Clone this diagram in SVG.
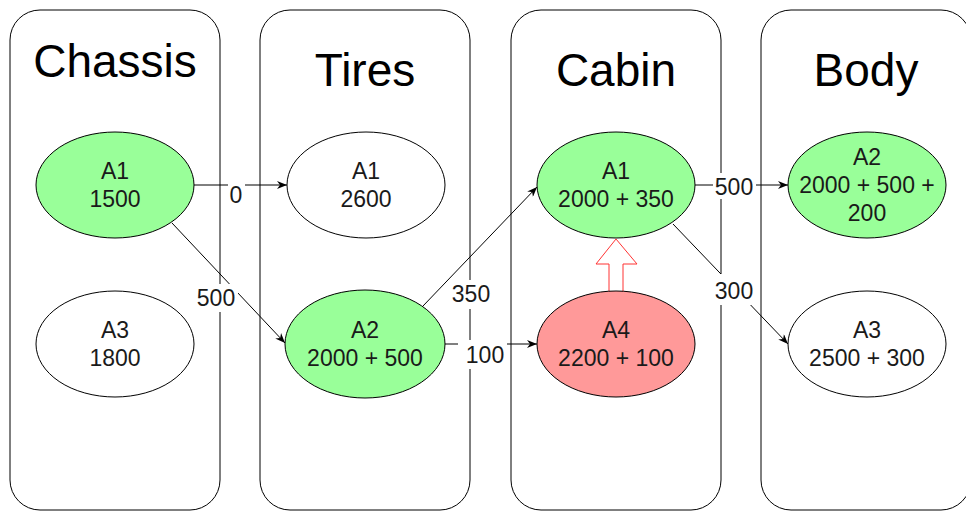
<svg xmlns="http://www.w3.org/2000/svg" width="966" height="511" viewBox="0 0 966 511">
<style>
.lane{fill:#fff;stroke:#000;stroke-width:1}
.title{font-family:"Liberation Sans",Arial,Helvetica,sans-serif;font-size:46px;fill:#000;text-anchor:middle}
.node{stroke:#000;stroke-width:1}
.green{fill:#99FF99}
.white{fill:#fff}
.red{fill:#FF9999}
.nt{font-family:"Liberation Sans",Arial,Helvetica,sans-serif;font-size:23px;fill:#1a1a1a;text-anchor:middle}
.edge{fill:none;stroke:#000;stroke-width:1}
.lbg{fill:#fff;stroke:none}
.lt{font-family:"Liberation Sans",Arial,Helvetica,sans-serif;font-size:23px;fill:#1a1a1a;text-anchor:middle}
</style>
<defs>
<marker id="arr" viewBox="0 0 10 8" refX="10" refY="4" markerWidth="10" markerHeight="8" markerUnits="userSpaceOnUse" orient="auto">
<path d="M0,0 L10,4 L0,8 L3,4 Z" fill="#000"/>
</marker>
</defs>
<rect width="966" height="511" fill="#fff"/>
<g id="lane-chassis"><rect class="lane" x="10" y="10" width="210" height="500" rx="30"/><text class="title" x="115" y="77">Chassis</text></g>
<g id="lane-tires"><rect class="lane" x="260" y="10" width="210" height="500" rx="30"/><text class="title" x="365" y="86">Tires</text></g>
<g id="lane-cabin"><rect class="lane" x="511" y="10" width="210" height="500" rx="30"/><text class="title" x="616" y="86">Cabin</text></g>
<g id="lane-body"><rect class="lane" x="761" y="10" width="210" height="500" rx="30"/><text class="title" x="866" y="86">Body</text></g>

<g id="block-arrow"><polygon points="616,239 637,264 623,264 623,292 609,292 609,264 596,264" fill="#fff" stroke="#FF3333" stroke-width="1"/></g>

<g id="chassis-a1"><ellipse class="node green" cx="115" cy="185" rx="79" ry="53"/><text class="nt" x="115" y="179">A1</text><text class="nt" x="115" y="207">1500</text></g>
<g id="chassis-a3"><ellipse class="node white" cx="115" cy="344" rx="79" ry="53"/><text class="nt" x="115" y="338">A3</text><text class="nt" x="115" y="366">1800</text></g>
<g id="tires-a1"><ellipse class="node white" cx="366" cy="185" rx="79" ry="53"/><text class="nt" x="366" y="179">A1</text><text class="nt" x="366" y="207">2600</text></g>
<g id="tires-a2"><ellipse class="node green" cx="365" cy="344" rx="80" ry="54"/><text class="nt" x="365" y="338">A2</text><text class="nt" x="365" y="366">2000 + 500</text></g>
<g id="cabin-a1"><ellipse class="node green" cx="616" cy="185" rx="79" ry="53"/><text class="nt" x="616" y="179">A1</text><text class="nt" x="616" y="207">2000 + 350</text></g>
<g id="cabin-a4"><ellipse class="node red" cx="616" cy="344" rx="79" ry="53"/><text class="nt" x="616" y="338">A4</text><text class="nt" x="616" y="366">2200 + 100</text></g>
<g id="body-a2"><ellipse class="node green" cx="867" cy="185" rx="79" ry="53"/><text class="nt" x="867" y="165">A2</text><text class="nt" x="867" y="193">2000 + 500 +</text><text class="nt" x="867" y="221">200</text></g>
<g id="body-a3"><ellipse class="node white" cx="867" cy="344" rx="79" ry="53"/><text class="nt" x="867" y="338">A3</text><text class="nt" x="867" y="366">2500 + 300</text></g>

<g id="connectors">
<line class="edge" x1="194" y1="185" x2="287" y2="185" marker-end="url(#arr)"/>
<line class="edge" x1="172" y1="223" x2="285" y2="343" marker-end="url(#arr)"/>
<line class="edge" x1="423" y1="306" x2="537" y2="187" marker-end="url(#arr)"/>
<line class="edge" x1="445" y1="344" x2="537" y2="344" marker-end="url(#arr)"/>
<line class="edge" x1="695" y1="185" x2="788" y2="185" marker-end="url(#arr)"/>
<line class="edge" x1="673" y1="224" x2="788" y2="344" marker-end="url(#arr)"/>
</g>

<g id="edge-labels">
<rect class="lbg" x="228" y="182" width="17" height="24"/><text class="lt" x="236" y="203">0</text>
<rect class="lbg" x="196" y="284" width="42" height="28"/><text class="lt" x="216" y="306">500</text>
<rect class="lbg" x="450" y="280" width="42" height="29"/><text class="lt" x="471" y="302">350</text>
<rect class="lbg" x="458" y="340" width="49" height="29"/><text class="lt" x="485" y="363">100</text>
<rect class="lbg" x="713" y="173" width="43" height="26"/><text class="lt" x="734" y="195">500</text>
<rect class="lbg" x="712" y="274" width="45" height="31"/><text class="lt" x="734" y="299">300</text>
</g>
</svg>
